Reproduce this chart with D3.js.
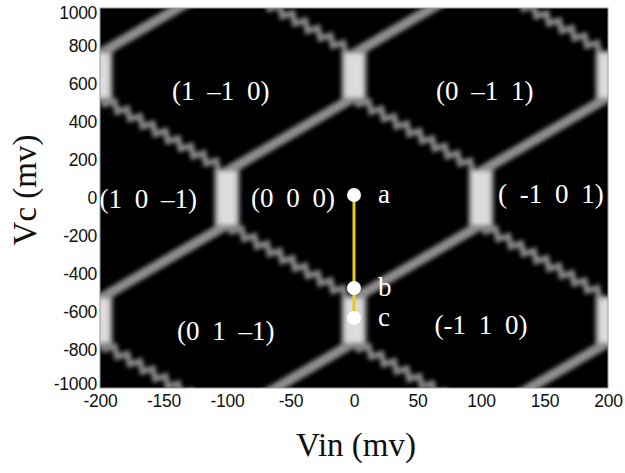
<!DOCTYPE html>
<html><head><meta charset="utf-8">
<script src="https://cdn.jsdelivr.net/npm/d3@7"></script>
<style>body{margin:0;background:#fff}svg{display:block}</style></head>
<body><svg id="c" width="625" height="473"></svg>
<script>
// ---- data ----
const vinTicks = [-200,-150,-100,-50,0,50,100,150,200];
const vcTicks = [-1000,-800,-600,-400,-200,0,200,400,600,800,1000];
// bright vertical segments (Vin, Vc low, Vc high)
const nodeVin = [-200,0,200,-100,100,-200,0,200];
const nodeLo  = [530,530,530,-140,-140,-760,-760,-760];
const nodeHi  = [760,760,760,140,140,-530,-530,-530];
// smooth lines (rising)
const straightFrom = [[-200,-530],[-100,140],[0,760],[-200,760],[-100,-1150],[0,-530],[100,140],[100,-1150]];
const straightTo   = [[-100,-140],[0,530],[100,1150],[-100,1150],[0,-760],[100,-140],[200,530],[200,-760]];
// zig-zag lines (falling)
const zigFrom = [[-200,530],[-100,1150],[-100,-140],[0,530],[100,1150],[-200,-760],[0,-760],[100,-140]];
const zigTo   = [[-100,140],[0,760],[0,-530],[100,140],[200,760],[-100,-1150],[100,-1150],[200,-530]];
// region labels
const regionText = ["(1 –1 0)","(0 –1 1)","(1 0 –1)","(0 0 0)","( -1 0 1)","(0 1 –1)","(-1 1 0)"];
const regionVin  = [-105,103,-162,-48,155,-101,100];
const regionVc   = [563,563,-5,0,21,-700,-668];
// operating points
const pointName = ["a","b","c"];
const pointVin  = [0,0,0];
const pointVc   = [16,-474,-632];

// ---- layout ----
const L=100, R=608, T=8, B=388;
const x = d3.scaleLinear().domain([-200,200]).range([L,R]);
const y = d3.scaleLinear().domain([-1000,1000]).range([B,T]);
const svg = d3.select("#c");
const defs = svg.append("defs");
defs.append("clipPath").attr("id","clip").append("rect")
  .attr("x",L).attr("y",T).attr("width",R-L).attr("height",B-T);
const f = defs.append("filter").attr("id","blur").attr("x","-10%").attr("y","-10%").attr("width","120%").attr("height","120%");
f.append("feGaussianBlur").attr("stdDeviation",2.2);

const plot = svg.append("g").attr("clip-path","url(#clip)");
plot.append("rect").attr("x",L).attr("y",T).attr("width",R-L).attr("height",B-T).attr("fill","#000");
const lat = plot.append("g").attr("filter","url(#blur)");

// straight lines
lat.selectAll("line.s").data(straightFrom.map((p,i)=>[p,straightTo[i]])).join("line")
  .attr("x1",d=>x(d[0][0])).attr("y1",d=>y(d[0][1]))
  .attr("x2",d=>x(d[1][0])).attr("y2",d=>y(d[1][1]))
  .attr("stroke","#8e8e8e").attr("stroke-width",10).attr("stroke-linecap","round");

// zigzag lines
function zig(d){
  const x1=x(d[0][0]), y1=y(d[0][1]), x2=x(d[1][0]), y2=y(d[1][1]);
  const dx=x2-x1, dy=y2-y1, len=Math.hypot(dx,dy);
  const n=Math.max(2,Math.round(len/7.5));
  const nx=-dy/len, ny=dx/len, a=4;
  const pts=[];
  for(let i=0;i<=n;i++){
    const t=i/n, s=(i===0||i===n)?0:(i%2?a:-a);
    pts.push([x1+dx*t+nx*s, y1+dy*t+ny*s]);
  }
  return d3.line()(pts);
}
lat.selectAll("path.z").data(zigFrom.map((p,i)=>[p,zigTo[i]])).join("path")
  .attr("d",zig).attr("fill","none")
  .attr("stroke","#868686").attr("stroke-width",6).attr("stroke-linejoin","miter");

// bright vertical segments
const nodes = nodeVin.map((v,i)=>({v,lo:nodeLo[i],hi:nodeHi[i]}));
lat.selectAll("rect.g").data(nodes).join("rect")
  .attr("x",d=>x(d.v)-13).attr("width",26)
  .attr("y",d=>y(d.hi)-3).attr("height",d=>y(d.lo)-y(d.hi)+6)
  .attr("fill","#8a8a8a");
lat.selectAll("rect.n").data(nodes).join("rect")
  .attr("x",d=>x(d.v)-9).attr("width",18)
  .attr("y",d=>y(d.hi)).attr("height",d=>y(d.lo)-y(d.hi))
  .attr("fill","#dcdcdc");

// frame
svg.append("rect").attr("x",L).attr("y",T).attr("width",R-L).attr("height",B-T)
  .attr("fill","none").attr("stroke","#9a9a9a").attr("stroke-width",1);

// region labels
svg.selectAll("text.r").data(regionText).join("text")
  .attr("x",(d,i)=>x(regionVin[i])).attr("y",(d,i)=>y(regionVc[i]))
  .attr("text-anchor","middle").attr("dy","0.35em")
  .style("white-space","pre").style("word-spacing","6px")
  .attr("font-family","'Liberation Serif','Times New Roman',serif").attr("font-size",27)
  .attr("fill","#fff").text(d=>d);

// operating path
svg.append("line")
  .attr("x1",x(pointVin[0])).attr("y1",y(pointVc[0]))
  .attr("x2",x(pointVin[2])).attr("y2",y(pointVc[2]))
  .attr("stroke","#e3cd1e").attr("stroke-width",3);
svg.selectAll("circle.p").data(pointName).join("circle")
  .attr("cx",(d,i)=>x(pointVin[i])).attr("cy",(d,i)=>y(pointVc[i])).attr("r",7)
  .attr("fill","#fff");
svg.selectAll("text.p").data(pointName).join("text")
  .attr("x",(d,i)=>x(pointVin[i])+24).attr("y",(d,i)=>y(pointVc[i]))
  .attr("dy","0.3em")
  .attr("font-family","'Liberation Serif','Times New Roman',serif").attr("font-size",27)
  .attr("fill","#fff").text(d=>d);

// axes
const xa = svg.append("g").attr("transform",`translate(0,${B})`)
  .call(d3.axisBottom(x).tickValues(vinTicks).tickFormat(d=>String(d)).tickSize(0).tickPadding(7));
const ya = svg.append("g").attr("transform",`translate(${L},0)`)
  .call(d3.axisLeft(y).tickValues(vcTicks).tickFormat(d=>String(d)).tickSize(0).tickPadding(3));
[xa,ya].forEach(a=>{
  a.select(".domain").remove();
  a.selectAll("text").attr("font-family","'Liberation Sans',Arial,sans-serif")
    .attr("font-size",17.5).attr("fill","#111").attr("letter-spacing","-0.3px");
});
ya.selectAll(".tick").filter(d=>d===-1000).select("text").attr("dy","0.1em");
ya.selectAll(".tick").filter(d=>d===1000).select("text").attr("dy","0.6em");

// titles
svg.append("text").attr("x",356).attr("y",456).attr("text-anchor","middle")
  .attr("font-family","'Liberation Serif','Times New Roman',serif").attr("font-size",33)
  .attr("fill","#111").text("Vin (mv)");
svg.append("text").attr("transform","translate(36,190) rotate(-90)").attr("text-anchor","middle")
  .attr("font-family","'Liberation Serif','Times New Roman',serif").attr("font-size",33)
  .attr("fill","#111").text("Vc (mv)");
</script></body></html>
